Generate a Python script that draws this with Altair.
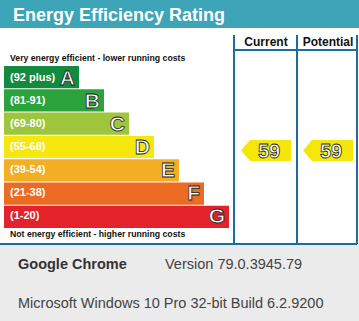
import altair as alt
import pandas as pd

# ---- data ----
bands = ["A", "B", "C", "D", "E", "F", "G"]
ranges = ["(92 plus)", "(81-91)", "(69-80)", "(55-68)", "(39-54)", "(21-38)", "(1-20)"]
band_low = [92, 81, 69, 55, 39, 21, 1]
band_colors = ["#138a3e", "#2ba23c", "#9dc63d", "#f6e80f", "#f4ae24", "#ec6b23", "#e3222b"]
columns = ["Current", "Potential"]
ratings = [59, 59]
title = "Energy Efficiency Rating"
top_note = "Very energy efficient - lower running costs"
bottom_note = "Not energy efficient - higher running costs"
browser = "Google Chrome"
version = "Version 79.0.3945.79"
os_line = "Microsoft Windows 10 Pro 32-bit Build 6.2.9200"

W, H = 359, 321
TOP, BOTTOM = 66, 228
STEP = (BOTTOM - TOP) / len(bands)
FONT = "Liberation Sans"
LINE = "#1b6e9b"

bands_df = pd.DataFrame({"band": bands, "range": ranges, "color": band_colors})
bands_df["rank"] = range(1, len(bands) + 1)
arrows_df = pd.DataFrame({"col": columns, "rating": ratings})
cols_df = pd.DataFrame({"col": columns})

yband = alt.Scale(domain=bands, range=[TOP, BOTTOM], paddingInner=0.05, paddingOuter=0)
xbar = alt.Scale(domain=[-2, 7], range=[4, 229], nice=False, zero=False)
xcol = alt.Scale(type="point", domain=columns, range=[266, 328], padding=0)
yrate = alt.Scale(
    domain=[l - 0.5 for l in band_low[:-1]],
    range=[TOP + (i + 1) * STEP - 0.57 for i in range(len(band_low) - 1)],
    nice=False, zero=False,
)

one = pd.DataFrame({"k": [0]})
def deco():
    return alt.Chart(one)

banner = deco().mark_rect(color="#3ea5b8").encode(
    x=alt.value(0), x2=alt.value(W), y=alt.value(0), y2=alt.value(28))
title_t = deco().mark_text(text=title, font=FONT, fontSize=18, fontWeight="bold",
                           color="white", align="left", baseline="alphabetic").encode(
    x=alt.value(13), y=alt.value(21))
footer = deco().mark_rect(color="#ebebeb").encode(
    x=alt.value(0), x2=alt.value(W), y=alt.value(245), y2=alt.value(H))
f1 = deco().mark_text(text=browser, font=FONT, fontSize=14.5, fontWeight="bold",
                      color="#333333", align="left", baseline="alphabetic").encode(
    x=alt.value(18), y=alt.value(269))
f2 = deco().mark_text(text=version, font=FONT, fontSize=14.5,
                      color="#444444", align="left", baseline="alphabetic").encode(
    x=alt.value(165), y=alt.value(269))
f3 = deco().mark_text(text=os_line, font=FONT, fontSize=14.5,
                      color="#444444", align="left", baseline="alphabetic").encode(
    x=alt.value(18), y=alt.value(308))

rules = [
    deco().mark_rule(color=LINE, strokeWidth=2).encode(x=alt.value(234), y=alt.value(35), y2=alt.value(244)),
    deco().mark_rule(color=LINE, strokeWidth=2).encode(x=alt.value(297), y=alt.value(35), y2=alt.value(244)),
    deco().mark_rule(color=LINE, strokeWidth=2).encode(x=alt.value(357), y=alt.value(35), y2=alt.value(244)),
    deco().mark_rule(color=LINE, strokeWidth=2).encode(x=alt.value(234), x2=alt.value(357), y=alt.value(50)),
    deco().mark_rule(color=LINE, strokeWidth=2).encode(x=alt.value(0), x2=alt.value(357), y=alt.value(244)),
]

notes = [
    deco().mark_text(text=top_note, font=FONT, fontSize=8.7, fontWeight="bold",
                     color="#111111", align="left", baseline="middle").encode(x=alt.value(10), y=alt.value(58)),
    deco().mark_text(text=bottom_note, font=FONT, fontSize=8.7, fontWeight="bold",
                     color="#111111", align="left", baseline="middle").encode(x=alt.value(10), y=alt.value(234)),
]

bars = alt.Chart(bands_df).mark_rect().encode(
    x=alt.X("rank:Q", scale=xbar, axis=None),
    x2=alt.X2(datum=-2),
    y=alt.Y("band:N", scale=yband, axis=None),
    color=alt.Color("color:N", scale=None),
)
range_t = alt.Chart(bands_df).mark_text(font=FONT, fontSize=11, fontWeight="bold",
                                        color="white", align="left", baseline="middle").encode(
    x=alt.value(10),
    y=alt.Y("band:N", scale=yband, axis=None),
    text="range:N",
)
letter_t = alt.Chart(bands_df).mark_text(font=FONT, fontSize=21, fontWeight="bold", color="white",
                                         stroke="#222222", strokeWidth=0.8,
                                         align="right", baseline="middle", dx=-4, dy=1).encode(
    x=alt.X("rank:Q", scale=xbar, axis=None),
    y=alt.Y("band:N", scale=yband, axis=None),
    text="band:N",
)

header = alt.Chart(cols_df).mark_text(font=FONT, fontSize=12, fontWeight="bold",
                                      color="#111111", baseline="alphabetic").encode(
    x=alt.X("col:N", scale=xcol, axis=None),
    y=alt.value(46),
    text="col:N",
)

arrow_path = "M-1,0L-0.64,-0.42L1,-0.42L1,0.42L-0.64,0.42Z"
arrows = alt.Chart(arrows_df).mark_point(shape=arrow_path, filled=True, size=2500,
                                         color="#f5e70a", opacity=1, strokeWidth=0).encode(
    x=alt.X("col:N", scale=xcol, axis=None),
    y=alt.Y("rating:Q", scale=yrate, axis=None),
)
arrow_t = alt.Chart(arrows_df).mark_text(font=FONT, fontSize=20, fontWeight="bold", color="white",
                                         stroke="#222222", strokeWidth=0.8,
                                         baseline="middle", dx=3, dy=1).encode(
    x=alt.X("col:N", scale=xcol, axis=None),
    y=alt.Y("rating:Q", scale=yrate, axis=None),
    text="rating:Q",
)

chart = alt.layer(
    banner, title_t, footer, f1, f2, f3, *rules, *notes,
    bars, range_t, letter_t, header, arrows, arrow_t,
).resolve_scale(x="independent", y="independent").properties(
    width=W, height=H, padding=0, autosize=alt.AutoSizeParams(type="none"),
    background="white",
).configure_view(stroke=None)

chart.save("out.html", embed_options={"renderer": "svg", "actions": False})
